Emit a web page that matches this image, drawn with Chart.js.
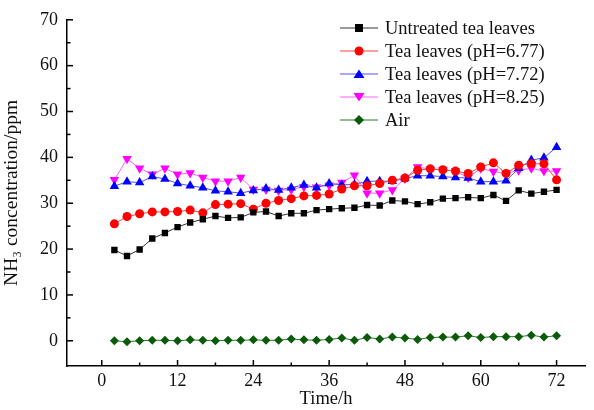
<!DOCTYPE html>
<html>
<head>
<meta charset="utf-8">
<script src="https://cdn.jsdelivr.net/npm/chart.js@4.4.1/dist/chart.umd.min.js"></script>
<style>
  html, body { margin: 0; padding: 0; background: #fff; }
  #wrap { position: relative; width: 594px; height: 410px; }
  #legend { position: absolute; left: 340px; top: 17px; font-family: "Liberation Serif", serif; font-size: 18.5px; color: #111; }
  #legend div { height: 23px; line-height: 23px; white-space: nowrap; }
  #legend svg { vertical-align: middle; margin-right: 7px; position: relative; top: -2px; }
</style>
</head>
<body>
<div id="wrap">
  <canvas id="nh3" width="594" height="410"></canvas>
  <div id="legend"></div>
</div>
<script>
// sampling times (h)
const times = [2, 4, 6, 8, 10, 12, 14, 16, 18, 20, 22, 24, 26, 28, 30, 32, 34, 36,
               38, 40, 42, 44, 46, 48, 50, 52, 54, 56, 58, 60, 62, 64, 66, 68, 70, 72];

const untreated = [19.8, 18.5, 19.9, 22.3, 23.5, 24.8, 25.8, 26.5, 27.2, 26.8, 26.9, 28.0,
                   28.2, 27.2, 27.8, 27.8, 28.5, 28.7, 28.9, 29.0, 29.6, 29.5, 30.6, 30.4,
                   29.8, 30.2, 31.0, 31.1, 31.3, 31.1, 31.8, 30.5, 32.8, 32.1, 32.5, 32.9];
const ph677 = [25.5, 27.1, 27.7, 28.1, 28.1, 28.2, 28.5, 27.9, 29.7, 29.8, 29.9, 28.7,
               30.0, 30.6, 31.0, 31.6, 31.7, 32.0, 33.1, 33.8, 33.8, 34.3, 35.0, 35.5,
               37.2, 37.5, 37.3, 37.0, 36.5, 37.9, 38.8, 36.5, 38.3, 38.6, 38.6, 35.1];
const ph772 = [33.7, 34.7, 34.5, 35.8, 35.3, 34.3, 33.8, 33.4, 32.7, 32.5, 32.2, 32.8,
               33.2, 32.9, 33.4, 34.0, 33.4, 34.3, 34.0, 34.1, 34.8, 34.8, 34.8, 35.4,
               36.0, 36.0, 35.8, 35.6, 35.5, 34.7, 34.7, 34.9, 37.6, 39.4, 39.9, 42.2];
const ph825 = [35.1, 39.7, 37.6, 36.3, 37.6, 36.3, 36.6, 35.6, 34.8, 34.8, 35.6, 33.0,
               33.0, 32.8, 33.0, 33.6, 33.5, 33.9, 34.5, 36.1, 32.2, 32.2, 32.9, 35.4,
               37.9, 37.4, 37.3, 37.0, 35.6, 37.6, 36.9, 36.5, 37.2, 37.6, 37.0, 37.0];
const air = [0.0, -0.2, 0.0, 0.1, 0.1, 0.0, 0.2, 0.1, 0.0, 0.1, 0.1, 0.2,
             0.1, 0.1, 0.4, 0.2, 0.1, 0.3, 0.6, 0.1, 0.7, 0.4, 0.8, 0.6,
             0.3, 0.7, 0.8, 0.8, 1.1, 0.7, 0.9, 0.9, 0.9, 1.2, 0.8, 1.1];

const seriesNames = ['Untreated tea leaves', 'Tea leaves (pH=6.77)', 'Tea leaves (pH=7.72)',
                     'Tea leaves (pH=8.25)', 'Air'];

const xTicks = [0, 12, 24, 36, 48, 60, 72];
const xMinor = [6, 18, 30, 42, 54, 66];
const yTicks = [0, 10, 20, 30, 40, 50, 60, 70];
const yMinor = [5, 15, 25, 35, 45, 55, 65];

function pts(values) {
  return values.map((v, i) => ({ x: times[i], y: v }));
}

function series(name, values, color, lineColor, style, radius, rotation) {
  return {
    label: name,
    data: pts(values),
    borderColor: lineColor,
    borderWidth: 1,
    backgroundColor: color,
    pointBackgroundColor: color,
    pointBorderColor: color,
    pointBorderWidth: 0,
    pointStyle: style,
    pointRadius: radius,
    pointRotation: rotation || 0,
    tension: 0
  };
}

const datasets = [
  series(seriesNames[0], untreated, '#000000', '#333333', 'rect', 4.5),
  series(seriesNames[1], ph677, '#ff0000', '#ff4040', 'circle', 4.5),
  series(seriesNames[2], ph772, '#0000ff', '#5050ff', 'triangle', 5.5),
  series(seriesNames[3], ph825, '#ff00ff', '#ff60ff', 'triangle', 5.5, 180),
  series(seriesNames[4], air, '#0a5a0a', '#2a7a2a', 'rectRot', 4.5)
];

const serif = '"Liberation Serif", "Times New Roman", serif';

// inward tick marks, major and minor
const innerTicks = {
  id: 'innerTicks',
  afterDatasetsDraw(chart) {
    const ctx = chart.ctx;
    const x = chart.scales.x, y = chart.scales.y;
    const bottom = chart.chartArea.bottom, left = chart.chartArea.left;
    ctx.save();
    ctx.strokeStyle = '#000';
    ctx.lineWidth = 1.5;
    const mark = (x1, y1, x2, y2) => { ctx.beginPath(); ctx.moveTo(x1, y1); ctx.lineTo(x2, y2); ctx.stroke(); };
    xTicks.forEach(v => { const p = x.getPixelForValue(v); mark(p, bottom, p, bottom - 6); });
    xMinor.forEach(v => { const p = x.getPixelForValue(v); mark(p, bottom, p, bottom - 3.5); });
    yTicks.forEach(v => { const p = y.getPixelForValue(v); mark(left, p, left + 6, p); });
    yMinor.forEach(v => { const p = y.getPixelForValue(v); mark(left, p, left + 3.5, p); });
    ctx.restore();
  }
};

const chart = new Chart(document.getElementById('nh3'), {
  type: 'line',
  data: { datasets: datasets },
  options: {
    responsive: false,
    animation: false,
    layout: { padding: { top: 16, right: 9, left: 0, bottom: 0 } },
    plugins: {
      legend: { display: false },
      tooltip: { enabled: false }
    },
    scales: {
      x: {
        type: 'linear',
        min: -5.5,
        max: 76.5,
        afterFit: s => { s.height = 44; },
        afterBuildTicks: s => { s.ticks = xTicks.map(v => ({ value: v })); },
        grid: { display: false, drawTicks: false },
        border: { display: true, color: '#000', width: 1.5 },
        ticks: { color: '#111', padding: 4, font: { family: serif, size: 18 }, maxRotation: 0 },
        title: { display: true, text: 'Time/h', color: '#111', padding: { top: 0, bottom: 0 },
                 font: { family: serif, size: 18.5 } }
      },
      y: {
        min: -5.5,
        max: 70,
        afterFit: s => { s.width = 67; },
        afterBuildTicks: s => { s.ticks = yTicks.map(v => ({ value: v })); },
        grid: { display: false, drawTicks: false },
        border: { display: true, color: '#000', width: 1.5 },
        ticks: { color: '#111', padding: 9, font: { family: serif, size: 18 } },
        title: { display: true, text: 'NH\u2083 concentration/ppm', color: '#111', padding: { top: 0, bottom: 1 },
                 font: { family: serif, size: 19.5 } }
      }
    }
  },
  plugins: [innerTicks]
});

// legend built from the datasets, line + marker like the original
function markerSvg(ds) {
  const c = ds.pointBackgroundColor;
  let shape;
  if (ds.pointStyle === 'rect') shape = `<rect x="15" y="5" width="8" height="8" fill="${c}"/>`;
  else if (ds.pointStyle === 'circle') shape = `<circle cx="19" cy="9" r="4.5" fill="${c}"/>`;
  else if (ds.pointStyle === 'rectRot') shape = `<polygon points="19,4 24,9 19,14 14,9" fill="${c}"/>`;
  else if (ds.pointRotation === 180) shape = `<polygon points="13.5,5 24.5,5 19,13.5" fill="${c}"/>`;
  else shape = `<polygon points="19,4.5 24.5,13 13.5,13" fill="${c}"/>`;
  return `<svg width="38" height="18"><line x1="0" y1="9" x2="38" y2="9" stroke="${ds.borderColor}" stroke-width="1"/>${shape}</svg>`;
}
document.getElementById('legend').innerHTML = chart.data.datasets
  .map(ds => `<div>${markerSvg(ds)}${ds.label}</div>`).join('');
</script>
</body>
</html>
